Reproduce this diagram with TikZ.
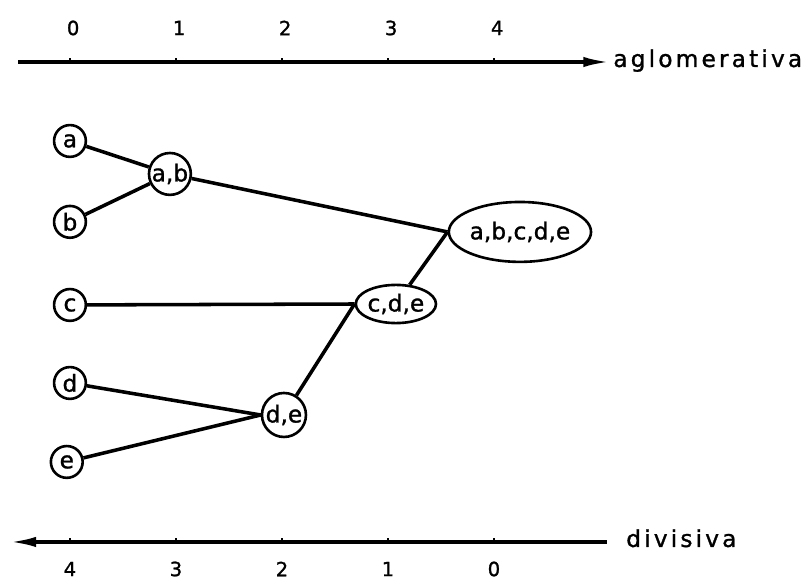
\documentclass[tikz,border=0pt]{standalone}
\usepackage{fontspec}
\setmainfont[FakeBold=1.2]{DejaVu Sans}
\usetikzlibrary{shapes.geometric,arrows.meta}
\begin{document}
\begin{tikzpicture}[>={Latex[length=14pt,width=5.5pt]}, x=2cm, y=2cm,
	leaf/.style={circle, draw, line width=1.4pt, inner sep=0pt, minimum size=0.6cm, font=\fontsize{12.5}{14}\selectfont},
	group/.style={ellipse, draw, line width=1.4pt, inner sep=0pt, font=\fontsize{12.5}{14}\selectfont},
	num/.style={inner sep=0pt, font=\fontsize{10.5}{12}\selectfont},
	axislabel/.style={inner sep=0pt, anchor=base west, font=\fontsize{12.5}{14}\selectfont\addfontfeature{LetterSpace=13.5}},
	link/.style={line width=1.9pt}]
	\useasboundingbox (-0.66,-0.368) rectangle (6.906,5.113);
	% escala superior
	\coordinate (aglo-start) at (-0.49,4.528);
	\coordinate (aglo-end) at (5.09,4.528);
	\draw[->, line width=1.8pt] (aglo-start) -- (aglo-end);
	\foreach \x in {0,...,4} \draw[line width=1.2pt] (\x,4.528) -- (\x,4.565);
	\foreach \x in {0,...,4} \node[num] (top\x) at (\x+0.03,4.849) {\x};
	\node[axislabel] (aglo) at (5.123,4.481) {aglomerativa};
	% escala inferior
	\coordinate (div-start) at (5.066,0);
	\coordinate (div-end) at (-0.566,0);
	\draw[->, line width=1.8pt] (div-start) -- (div-end);
	\foreach \x in {0,...,4} \draw[line width=1.2pt] (\x,0) -- (\x,0.037);
	\foreach \x/\l in {0/4,1/3,2/2,3/1,4/0} \node[num] (bot\x) at (\x,-0.255) {\l};
	\node[axislabel] (div) at (5.245,-0.047) {divisiva};
	% elementos
	\node[leaf] (a) at (0,3.783) {a};
	\node[leaf] (b) at (0,3.02) {b};
	\node[leaf] (c) at (0,2.236) {c};
	\node[leaf] (d) at (0,1.5) {d};
	\node[leaf] (e) at (-0.03,0.755) {e};
	% grupos
	\node[leaf, minimum size=0.79cm] (ab) at (0.943,3.472) {a,b};
	\node[leaf, minimum size=0.83cm] (de) at (2.019,1.198) {d,e};
	\node[group, minimum width=1.28cm, minimum height=0.72cm] (cde) at (3.075,2.245) {c,d,e};
	\node[group, minimum width=2.06cm, minimum height=1.13cm] (abcde) at (4.245,2.925) {a,b,c,d,e};
	\draw[link] (a) -- (ab);
	\draw[link] (b) -- (ab);
	\draw[link] (d) -- (de.west);
	\draw[link] (e) -- (de.west);
	\draw[link] (c) -- (cde.west);
	\draw[link] (de) -- (cde.west);
	\draw[link] (ab) -- (abcde.west);
	\draw[link] (cde) -- (abcde.west);
\end{tikzpicture}
\end{document}
